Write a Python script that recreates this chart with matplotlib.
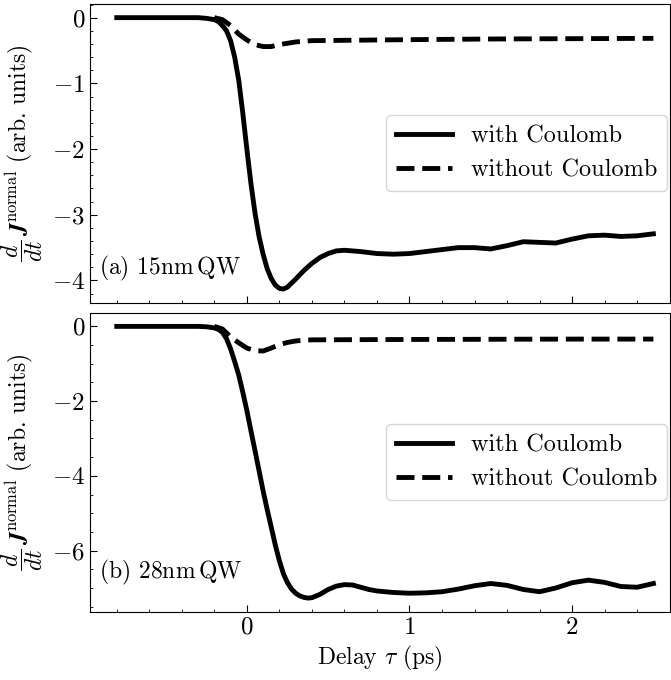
import matplotlib
matplotlib.use("Agg")
from matplotlib import pyplot as plt
from matplotlib.ticker import MultipleLocator

plt.rcParams["font.family"] = "serif"
plt.rcParams["font.serif"] = ["cmr10"]
plt.rcParams["mathtext.fontset"] = "cm"
plt.rcParams["axes.formatter.use_mathtext"] = True
plt.rcParams["font.size"] = 17

# (a) 15nm QW, with Coulomb
x_a = [-0.8, -0.3, -0.25, -0.2, -0.175, -0.15, -0.125, -0.1, -0.075, -0.05, -0.025, 0.0, 0.025,
       0.05, 0.075, 0.1, 0.125, 0.15, 0.175, 0.2, 0.225, 0.25, 0.3, 0.35, 0.4, 0.45,
       0.5, 0.55, 0.6, 0.7, 0.8, 0.9, 1.0, 1.1, 1.2, 1.3, 1.4, 1.5, 1.6, 1.7, 1.8,
       1.9, 2.0, 2.1, 2.2, 2.3, 2.4, 2.5]
with_a = [0.0, 0.0, -0.01, -0.03, -0.06, -0.12, -0.2, -0.35, -0.6, -0.95, -1.45, -2.0, -2.52,
          -2.97, -3.33, -3.6, -3.82, -3.97, -4.07, -4.12, -4.13, -4.10, -3.98, -3.85, -3.74, -3.65,
          -3.59, -3.55, -3.54, -3.56, -3.59, -3.6, -3.59, -3.56, -3.53, -3.5, -3.5, -3.52, -3.47, -3.41, -3.42,
          -3.43, -3.37, -3.32, -3.31, -3.33, -3.32, -3.29]

# (a) 15nm QW, without Coulomb
xd_a = [-0.2, -0.15, -0.1, -0.05, 0.0, 0.05, 0.1, 0.15, 0.2, 0.25, 0.3, 0.4, 0.6, 1.0, 1.5, 2.0, 2.5]
without_a = [0.0, -0.03, -0.12, -0.25, -0.34, -0.41, -0.44, -0.44, -0.41, -0.39, -0.37, -0.35,
             -0.345, -0.335, -0.325, -0.32, -0.315]

# (b) 28nm QW, with Coulomb
x_b = [-0.8, -0.3, -0.25, -0.2, -0.175, -0.15, -0.125, -0.1, -0.075, -0.05, -0.025, 0.0, 0.025,
       0.05, 0.075, 0.1, 0.125, 0.15, 0.175, 0.2, 0.225, 0.25, 0.275, 0.3, 0.325, 0.35,
       0.375, 0.4, 0.45, 0.5, 0.55, 0.6, 0.65, 0.7, 0.75, 0.8, 0.9, 1.0, 1.1, 1.2, 1.3,
       1.4, 1.5, 1.6, 1.7, 1.8, 1.9, 2.0, 2.1, 2.2, 2.3, 2.4, 2.5]
with_b = [0.0, 0.0, -0.01, -0.04, -0.08, -0.16, -0.33, -0.6, -0.94, -1.3, -1.76, -2.25, -2.79,
          -3.32, -3.86, -4.4, -4.9, -5.37, -5.85, -6.27, -6.62, -6.86, -7.03, -7.14, -7.21, -7.25,
          -7.27, -7.26, -7.17, -7.04, -6.95, -6.91, -6.92, -6.98, -7.04, -7.08, -7.12, -7.14, -7.13, -7.1, -7.03,
          -6.94, -6.88, -6.93, -7.04, -7.1, -7.0, -6.86, -6.79, -6.85, -6.96, -6.98, -6.88]

# (b) 28nm QW, without Coulomb
xd_b = [-0.2, -0.15, -0.1, -0.05, 0.0, 0.05, 0.1, 0.15, 0.2, 0.25, 0.3, 0.35, 0.4, 1.0, 2.0, 2.5]
without_b = [0.0, -0.07, -0.28, -0.44, -0.58, -0.65, -0.66, -0.58, -0.49, -0.43, -0.39, -0.37,
             -0.36, -0.35, -0.34, -0.34]

panels = [
    (x_a, with_a, xd_a, without_a, "(a) 15nm$\\,$QW", 0.2, 0.116),
    (x_b, with_b, xd_b, without_b, "(b) 28nm$\\,$QW", 0.5, 0.13),
]

fig = plt.figure(figsize=(6.71, 6.80), dpi=100)
ax_top = fig.add_axes([0.134, 0.555, 0.864, 0.439])
ax_bot = fig.add_axes([0.134, 0.1005, 0.864, 0.4395], sharex=ax_top)

for ax, (x1, y1, x2, y2, label, minor, ty) in zip([ax_top, ax_bot], panels):
    ax.plot(x1, y1, color="black", lw=3.5, label="with Coulomb")
    ax.plot(x2, y2, color="black", lw=3.5, ls="--", label="without Coulomb")
    ax.legend(loc="center right", borderaxespad=0.1, handlelength=2.3, fontsize=17.5)
    ax.text(0.016, ty, label, transform=ax.transAxes, va="center", ha="left", fontsize=17)
    ax.set_ylabel(r"$\dfrac{d}{dt}\,\boldsymbol{J}^{\mathrm{normal}}$ (arb. units)", fontsize=17)
    ax.yaxis.set_label_coords(-0.078, 0.5)
    ax.yaxis.set_minor_locator(MultipleLocator(minor))
    ax.xaxis.set_minor_locator(MultipleLocator(0.2))
    ax.xaxis.set_major_locator(MultipleLocator(1))
    ax.tick_params(which="both", direction="in", labelsize=18)
    ax.tick_params(which="major", length=5)
    ax.tick_params(which="minor", length=2.5)

ax_top.tick_params(labelbottom=False)
ax_top.set_xlim(-0.965, 2.6)
ax_bot.set_xlabel(r"Delay $\tau$ (ps)", fontsize=17)

plt.savefig("out.png")
